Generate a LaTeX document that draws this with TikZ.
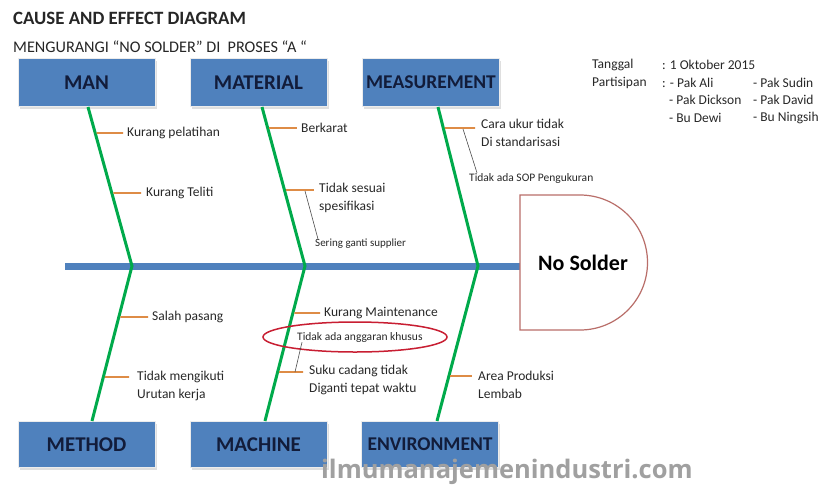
\documentclass[tikz,border=0pt]{standalone}
\usepackage{fontspec}
\setmainfont{Carlito}
\newfontfamily\wmfont{Open Sans}
\usetikzlibrary{shadows,calc}
\definecolor{boxblue}{RGB}{79,129,189}
\definecolor{boxtext}{RGB}{18,28,58}
\definecolor{bonegreen}{RGB}{0,170,75}
\definecolor{tickorange}{RGB}{222,140,70}
\definecolor{headred}{RGB}{185,110,105}
\definecolor{ovalred}{RGB}{200,30,50}
\definecolor{txt}{RGB}{40,40,40}
\definecolor{wmgray}{RGB}{160,160,160}
\tikzset{
  catbox/.style={fill=boxblue, draw=white!85!gray, line width=0.8pt, minimum width=137pt,
    minimum height=48pt, inner sep=0pt, text=boxtext, font=\fontsize{21}{23}\selectfont\bfseries,
    drop shadow={opacity=0.25, shadow xshift=1.5pt, shadow yshift=-2pt}},
  widebox/.style={font=\fontsize{19.5}{22}\selectfont\bfseries},
  bone/.style={draw=bonegreen, line width=3pt},
  tickline/.style={draw=tickorange, line width=1.8pt},
  callout/.style={draw=black!70, line width=0.6pt},
  lbl/.style={anchor=west, inner sep=0pt, text=txt, align=left, font=\fontsize{13.5}{18}\selectfont},
  small/.style={anchor=west, inner sep=0pt, text=txt, font=\fontsize{11}{13}\selectfont},
  info/.style={anchor=west, inner sep=0pt, text=txt, font=\fontsize{13.5}{15}\selectfont},
}
\begin{document}
\begin{tikzpicture}[x=1pt,y=-1pt]
\useasboundingbox[fill=white] (0,0) rectangle (821,488);

% titles
\node[anchor=west, inner sep=0pt, text=black!85, font=\fontsize{18.8}{21}\selectfont\bfseries] (title) at (13,18) {CAUSE AND EFFECT DIAGRAM};
\node[anchor=west, inner sep=0pt, text=black!85, font=\fontsize{16.2}{18}\selectfont] (subtitle) at (13,47) {MENGURANGI “NO SOLDER” DI\ \ PROSES “A “};

% info
\node[info] (i1) at (592,65) {Tanggal};
\node[info] (i2) at (662,65) {: 1 Oktober 2015};
\node[info] (i3) at (592,83) {Partisipan};
\node[info] (i4) at (662,83) {: - Pak Ali};
\node[info] (i5) at (753,83) {- Pak Sudin};
\node[info] (i6) at (669,100) {- Pak Dickson};
\node[info] (i7) at (753,100) {- Pak David};
\node[info] (i8) at (669,118) {- Bu Dewi};
\node[info] (i9) at (753,118) {- Bu Ningsih};

% category boxes
\node[catbox] (man) at (86.5,82.5) {MAN};
\node[catbox] (material) at (258.5,82.5) {MATERIAL};
\node[catbox, widebox] (measure) at (431,82.5) {MEASUREMENT};
\node[catbox, minimum height=46pt] (method) at (86.5,444.5) {METHOD};
\node[catbox, minimum height=46pt] (machine) at (258.5,444.5) {MACHINE};
\node[catbox, widebox, minimum height=46pt] (environ) at (430,444.5) {ENVIRONMENT};

% bone coordinates
\coordinate (mt) at (88,107);   \coordinate (j1) at (132,266); \coordinate (mb) at (92,421);
\coordinate (at) at (262,107);  \coordinate (j2) at (305,266); \coordinate (ab) at (265,421);
\coordinate (st) at (438,107);  \coordinate (j3) at (478,266); \coordinate (sb) at (437,421);
\coordinate (tail) at (65,266); \coordinate (head) at (520,266);

% spine
\draw[draw=boxblue, line width=7pt] (tail) -- (head);

% head shape
\draw[draw=headred, line width=1.2pt, fill=white] (580,195) -- (520,195) -- (520,330) -- (580,330)
  arc[start angle=-90, end angle=90, radius=67.5pt] -- cycle;
\node[inner sep=0pt, text=black, font=\fontsize{22}{24}\selectfont\bfseries] (effect) at (583,263) {No Solder};

% bones
\draw[bone] (mt) -- (j1) -- (mb);
\draw[bone] (at) -- (j2) -- (ab);
\draw[bone] (st) -- (j3) -- (sb);

% MAN causes
\node[lbl] (c1) at (127,133) {Kurang pelatihan};
\draw[tickline] (intersection of mt--j1 and 0,133--1,133) ++(1.5,0) -- (c1.west -| 123,0);
\node[lbl] (c2) at (146,193) {Kurang Teliti};
\draw[tickline] (intersection of mt--j1 and 0,193--1,193) ++(1.5,0) -- (c2.west -| 141,0);

% MATERIAL causes
\node[lbl] (c3) at (301,128) {Berkarat};
\draw[tickline] (intersection of at--j2 and 0,128--1,128) ++(1.5,0) -- (c3.west -| 297,0);
\node[lbl] (c4) at (319,198) {Tidak sesuai\\spesifikasi};
\coordinate (t4) at (314,190);
\draw[tickline] (intersection of at--j2 and 0,190--1,190) ++(1.5,0) -- (t4);
\node[small] (c5) at (315,244) {Sering ganti supplier};
\draw[callout] (305,191) -- (c5.north -| 318,0);

% MEASUREMENT causes
\node[lbl] (c6) at (481,133) {Cara ukur tidak\\Di standarisasi};
\coordinate (t6) at (475,128);
\draw[tickline] (intersection of st--j3 and 0,128--1,128) ++(1.5,0) -- (t6);
\node[small, font=\fontsize{11.5}{13}\selectfont] (c7) at (469,178) {Tidak ada SOP Pengukuran};
\draw[callout] (463,129) -- (c7.north -| 477,0);

% METHOD causes
\node[lbl] (c8) at (152,317) {Salah pasang};
\draw[tickline] (intersection of j1--mb and 0,317--1,317) ++(1.5,0) -- (c8.west -| 148,0);
\node[lbl] (c9) at (137,386) {Tidak mengikuti\\Urutan kerja};
\coordinate (t9) at (129,377);
\draw[tickline] (intersection of j1--mb and 0,377--1,377) ++(1.5,0) -- (t9);

% MACHINE causes
\node[lbl] (c10) at (324,313) {Kurang Maintenance};
\draw[tickline] (intersection of j2--ab and 0,313--1,313) ++(1.5,0) -- (c10.west -| 320,0);
\node[small, font=\fontsize{11.5}{13}\selectfont] (c11) at (297,337) {Tidak ada anggaran khusus};
\draw[draw=ovalred, line width=1.5pt] (355,337) ellipse [x radius=92, y radius=15];
\node[lbl] (c12) at (309,380) {Suku cadang tidak\\Diganti tepat waktu};
\coordinate (t12) at (303,372);
\draw[tickline] (intersection of j2--ab and 0,372--1,372) ++(1.5,0) -- (t12);
\draw[callout] (c11.south -| 302,0) -- (295,372);

% ENVIRONMENT causes
\node[lbl] (c13) at (478,385) {Area Produksi\\Lembab};
\coordinate (t13) at (472,376);
\draw[tickline] (intersection of j3--sb and 0,376--1,376) ++(1.5,0) -- (t13);

% watermark
\node[anchor=west, inner sep=0pt, text=wmgray, font=\wmfont\fontsize{25.5}{28}\selectfont\bfseries] (wm) at (321,472) {ilmumanajemenindustri.com};
\end{tikzpicture}
\end{document}
